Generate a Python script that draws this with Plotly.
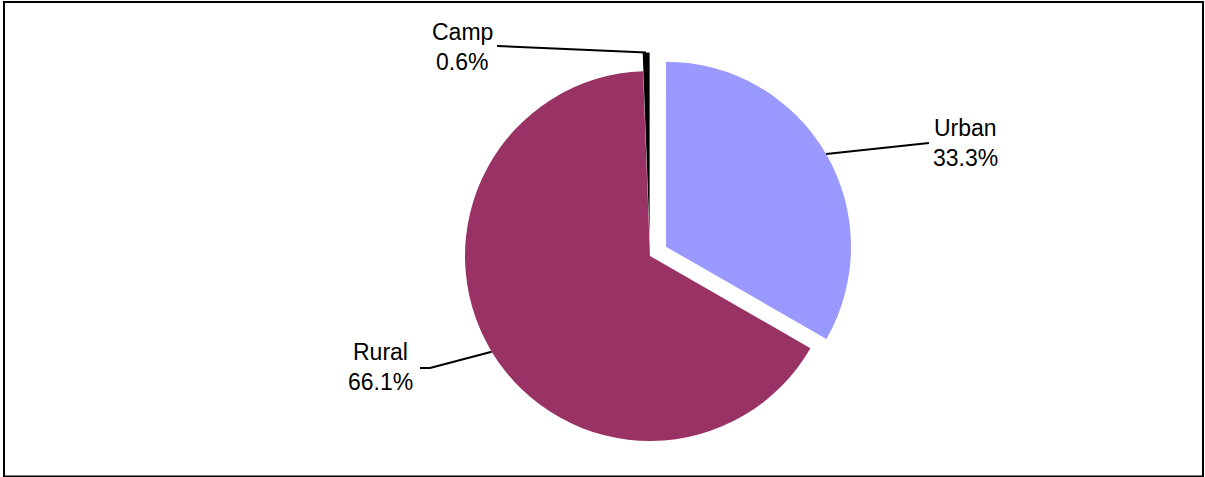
import math

import plotly.graph_objects as go

# data
labels = ["Urban", "Rural", "Camp"]
values = [33.3, 66.1, 0.6]
colors = ["#9999FF", "#993366", "#000000"]
pulls = [0.1, 0.0, 0.1]

W, H = 1205, 477

# pie placement (pixels)
CX, CY, R = 650, 256, 185
BOX = R * (1 + max(pulls))

# label layout: text centre (px) and elbow / end points of the leader line
label_pos = {
    "Urban": {"text": (965, 143), "line": [(929, 143)]},
    "Rural": {"text": (380, 367), "line": [(430, 368), (420, 368)]},
    "Camp": {"text": (462, 47), "line": [(497, 46)]},
}


def px(x):
    return x / W


def py(y):
    return 1 - y / H


fig = go.Figure()
fig.add_trace(go.Pie(
    labels=labels,
    values=values,
    marker=dict(colors=colors, line=dict(width=0)),
    pull=pulls,
    sort=False,
    direction="clockwise",
    rotation=0,
    textinfo="none",
    hoverinfo="label+percent",
    showlegend=False,
    domain=dict(x=[px(CX - BOX), px(CX + BOX)], y=[py(CY + BOX), py(CY - BOX)]),
))

shapes = [dict(
    type="rect", xref="paper", yref="paper",
    x0=px(4), x1=px(1203), y0=py(476.5), y1=py(2),
    line=dict(color="black", width=2),
)]
annotations = []

total = sum(values)
start = 0.0
for lab, val, pull in zip(labels, values, pulls):
    span = val / total * 360
    mid = math.radians(start + span / 2)
    start += span
    # point on the outer edge of the (pulled) slice
    ex = CX + (1 + pull) * R * math.sin(mid)
    ey = CY - (1 + pull) * R * math.cos(mid)
    pts = [(ex, ey)] + label_pos[lab]["line"]
    for (x0, y0), (x1, y1) in zip(pts[:-1], pts[1:]):
        shapes.append(dict(
            type="line", xref="paper", yref="paper",
            x0=px(x0), y0=py(y0), x1=px(x1), y1=py(y1),
            line=dict(color="black", width=2),
        ))
    tx, ty = label_pos[lab]["text"]
    for txt, dy in ((lab, -15), (f"{val:.1f}%", 15)):
        annotations.append(dict(
            x=px(tx), y=py(ty + dy), xref="paper", yref="paper",
            text=txt, showarrow=False, xanchor="center", yanchor="middle",
            font=dict(size=23, color="black", family="Liberation Sans, Arial, sans-serif"),
        ))

fig.update_layout(
    width=W,
    height=H,
    margin=dict(l=0, r=0, t=0, b=0),
    paper_bgcolor="white",
    plot_bgcolor="white",
    shapes=shapes,
    annotations=annotations,
)

# drop the default page margin so the figure sits flush in the window
fig.write_html(
    "out.html",
    config={"displayModeBar": False},
    post_script="document.body.style.margin='0';document.body.style.overflow='hidden';",
)
